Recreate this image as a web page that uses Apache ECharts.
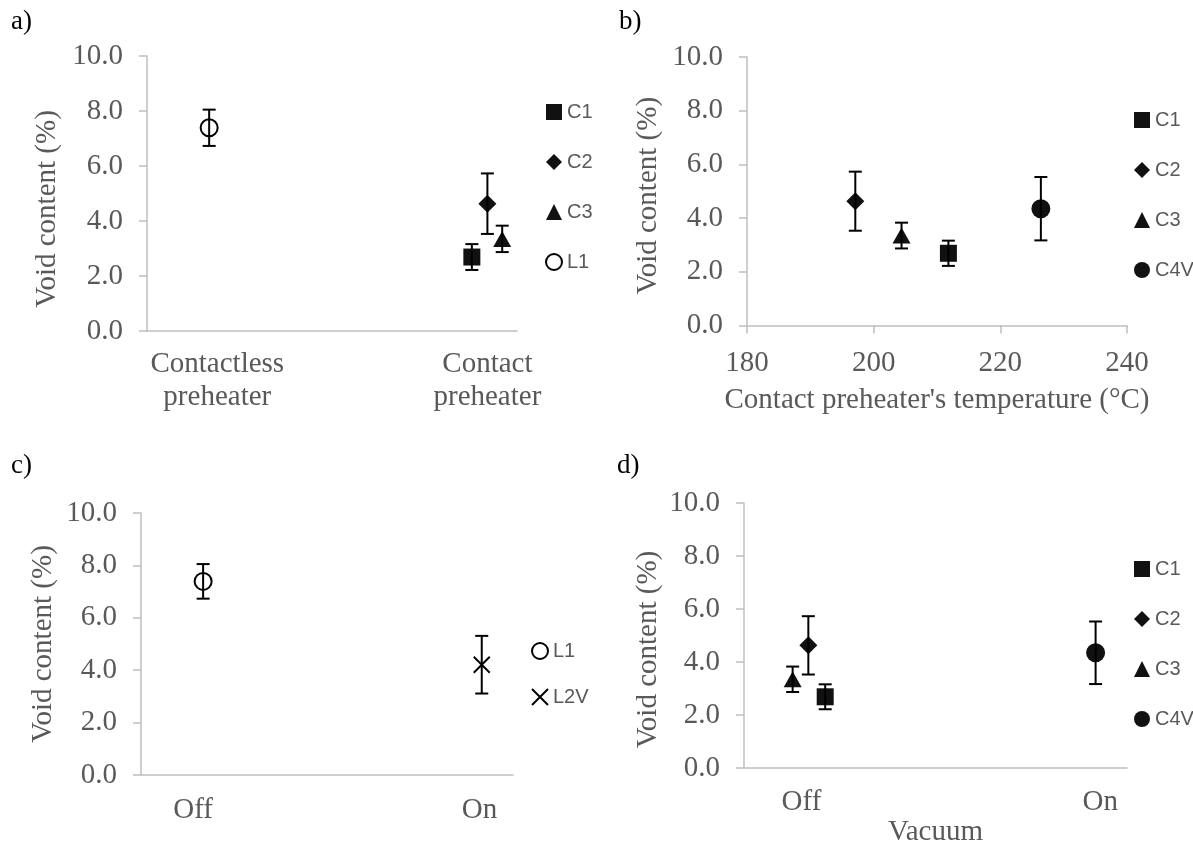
<!DOCTYPE html>
<html>
<head>
<meta charset="utf-8">
<script src="https://cdn.jsdelivr.net/npm/echarts@6/dist/echarts.min.js"></script>
<style>html,body{margin:0;padding:0;background:#fff}#c{width:1193px;height:848px}</style>
</head>
<body>
<div id="c"></div>
<script>
// ---- data ----
const seriesNames = ['C1', 'C2', 'C3', 'C4V', 'L1', 'L2V'];
const voidMean = [2.69, 4.63, 3.35, 4.35, 7.39, 4.21];   // void content (%)
const voidErr  = [0.47, 1.10, 0.48, 1.18, 0.66, 1.10];   // error bar half-length
const contactTemp = [211.8, 197.1, 204.4, 226.4];        // contact preheater temperature for C1..C4V (°C)
// x positions of points along the categorical axes (0..100)
const posA = { C1: 87.8, C2: 92.0, C3: 96.0, L1: 16.8 };
const posC = { L1: 16.7, L2V: 91.6 };
const posD = { C1: 21.2, C2: 16.8, C3: 12.7, C4V: 91.8 };
// tick labels
const labelsA = ['Contactless\npreheater', 'Contact\npreheater'];
const labelPosA = [19, 92];
const labelsC = ['Off', 'On'];
const labelPosC = [14, 91];
const labelsD = ['Off', 'On'];
const labelPosD = [15, 93];
const yTicks = [0, 2, 4, 6, 8, 10];

// ---- styles ----
const SERIF = 'Liberation Serif';
const SANS = '"Liberation Sans", sans-serif';
const FS = 29;
const GREY = '#595959';
const AXIS = '#bfbfbf';
const symbols = {
  C1: { symbol: 'rect', size: 17, color: '#111', border: 0 },
  C2: { symbol: 'diamond', size: 18, color: '#111', border: 0 },
  C3: { symbol: 'triangle', size: [18, 16], color: '#111', border: 0 },
  C4V: { symbol: 'circle', size: 19, color: '#111', border: 0 },
  L1: { symbol: 'circle', size: 17, color: '#ffffff', border: 2 },
  L2V: { symbol: 'path://M0,0L20,20M20,0L0,20', size: 16, color: 'rgba(0,0,0,0)', border: 2 }
};

const grids = [
  { left: 147, top: 56, width: 370, height: 275 },
  { left: 747, top: 57, width: 380, height: 268.5 },
  { left: 141, top: 513, width: 372, height: 262 },
  { left: 744, top: 503, width: 383, height: 272 }
];
const nameShift = [31, 9, 0, 28];
const nameGaps = [85, 84, 83, 81];

function yAxis(i) {
  return {
    type: 'value', gridIndex: i, min: 0, max: 10, interval: 2,
    name: 'Void content (%)', nameLocation: 'middle', nameGap: nameGaps[i], nameRotate: 90,
    nameTextStyle: { fontFamily: SERIF, fontSize: FS, color: GREY, padding: [0, nameShift[i], 0, 0] },
    axisLine: { show: true, lineStyle: { color: AXIS, width: 1.5 } },
    axisTick: { show: true, length: 8, lineStyle: { color: AXIS, width: 1.5 } },
    splitLine: { show: false },
    axisLabel: { fontFamily: SERIF, fontSize: FS, color: GREY, margin: 24,
      formatter: v => yTicks.indexOf(v) >= 0 ? v.toFixed(1) : '' }
  };
}
function catAxis(i, labels, pos, margin, lh) {
  return {
    type: 'value', gridIndex: i, min: 0, max: 100, interval: 1,
    axisLine: { show: true, onZero: false, lineStyle: { color: AXIS, width: 1.5 } },
    axisTick: { show: false }, splitLine: { show: false },
    axisLabel: { fontFamily: SERIF, fontSize: FS, color: GREY, margin: margin, lineHeight: lh,
      formatter: v => { const k = pos.indexOf(Math.round(v)); return k >= 0 ? labels[k] : ''; } }
  };
}

const xAxes = [
  catAxis(0, labelsA, labelPosA, 17, 33),
  {
    type: 'value', gridIndex: 1, min: 180, max: 240, interval: 20,
    name: "Contact preheater's temperature (°C)", nameLocation: 'middle', nameGap: 60,
    nameTextStyle: { fontFamily: SERIF, fontSize: FS, color: GREY },
    axisLine: { show: true, onZero: false, lineStyle: { color: AXIS, width: 1.5 } },
    axisTick: { show: true, length: 8, lineStyle: { color: AXIS, width: 1.5 } },
    splitLine: { show: false },
    axisLabel: { fontFamily: SERIF, fontSize: FS, color: GREY, margin: 23 }
  },
  catAxis(2, labelsC, labelPosC, 21, 29),
  Object.assign(catAxis(3, labelsD, labelPosD, 20, 29), {
    name: 'Vacuum', nameLocation: 'middle', nameGap: 48,
    nameTextStyle: { fontFamily: SERIF, fontSize: FS, color: GREY }
  })
];

function errRender(params, api) {
  const x = api.value(0), y = api.value(1), e = api.value(2);
  const t = api.coord([x, y + e]), b = api.coord([x, y - e]);
  const w = 6.5, st = { stroke: '#000', lineWidth: 2 };
  return { type: 'group', children: [
    { type: 'line', shape: { x1: t[0], y1: t[1], x2: b[0], y2: b[1] }, style: st },
    { type: 'line', shape: { x1: t[0] - w, y1: t[1], x2: t[0] + w, y2: t[1] }, style: st },
    { type: 'line', shape: { x1: b[0] - w, y1: b[1], x2: b[0] + w, y2: b[1] }, style: st }
  ] };
}

const series = [];
function addPanel(i, xOf) {
  const err = [];
  Object.keys(xOf).forEach(name => {
    const k = seriesNames.indexOf(name);
    const s = symbols[name];
    const x = xOf[name];
    series.push({
      name: name, type: 'scatter', xAxisIndex: i, yAxisIndex: i, z: 2,
      symbol: s.symbol, symbolSize: s.size,
      itemStyle: { color: s.color, borderColor: '#000', borderWidth: s.border, opacity: 1 },
      emphasis: { disabled: true },
      data: [[x, voidMean[k]]]
    });
    err.push([x, voidMean[k], voidErr[k]]);
  });
  series.push({
    name: 'err' + i, type: 'custom', xAxisIndex: i, yAxisIndex: i, z: 3,
    renderItem: errRender, encode: { x: 0, y: 1 }, data: err, silent: true
  });
}
addPanel(0, posA);
const posB = {};
['C1', 'C2', 'C3', 'C4V'].forEach((n, j) => posB[n] = contactTemp[j]);
addPanel(1, posB);
addPanel(2, posC);
addPanel(3, posD);

function legend(left, top, data, gap) {
  return {
    orient: 'vertical', left: left, top: top, data: data, itemGap: gap, padding: 0,
    itemWidth: 16, itemHeight: 16, selectedMode: false,
    textStyle: { fontFamily: SANS, fontSize: 20, color: GREY }
  };
}
function ttl(text, left, top) {
  return { text: text, left: left, top: top, padding: 0,
    textStyle: { fontFamily: SERIF, fontSize: 27, fontWeight: 'normal', color: '#000' } };
}

const chart = echarts.init(document.getElementById('c'), null, { renderer: 'canvas' });
chart.setOption({
  animation: false,
  backgroundColor: '#fff',
  title: [ttl('a)', 11, 8), ttl('b)', 619, 8), ttl('c)', 11, 452), ttl('d)', 617, 452)],
  legend: [
    legend(545, 102, ['C1', 'C2', 'C3', 'L1'], 30),
    legend(1134, 110, ['C1', 'C2', 'C3', 'C4V'], 30),
    legend(531, 641, ['L1', 'L2V'], 26),
    legend(1134, 559, ['C1', 'C2', 'C3', 'C4V'], 30)
  ],
  grid: grids,
  xAxis: xAxes,
  yAxis: [yAxis(0), yAxis(1), yAxis(2), yAxis(3)],
  series: series
});
</script>
</body>
</html>
